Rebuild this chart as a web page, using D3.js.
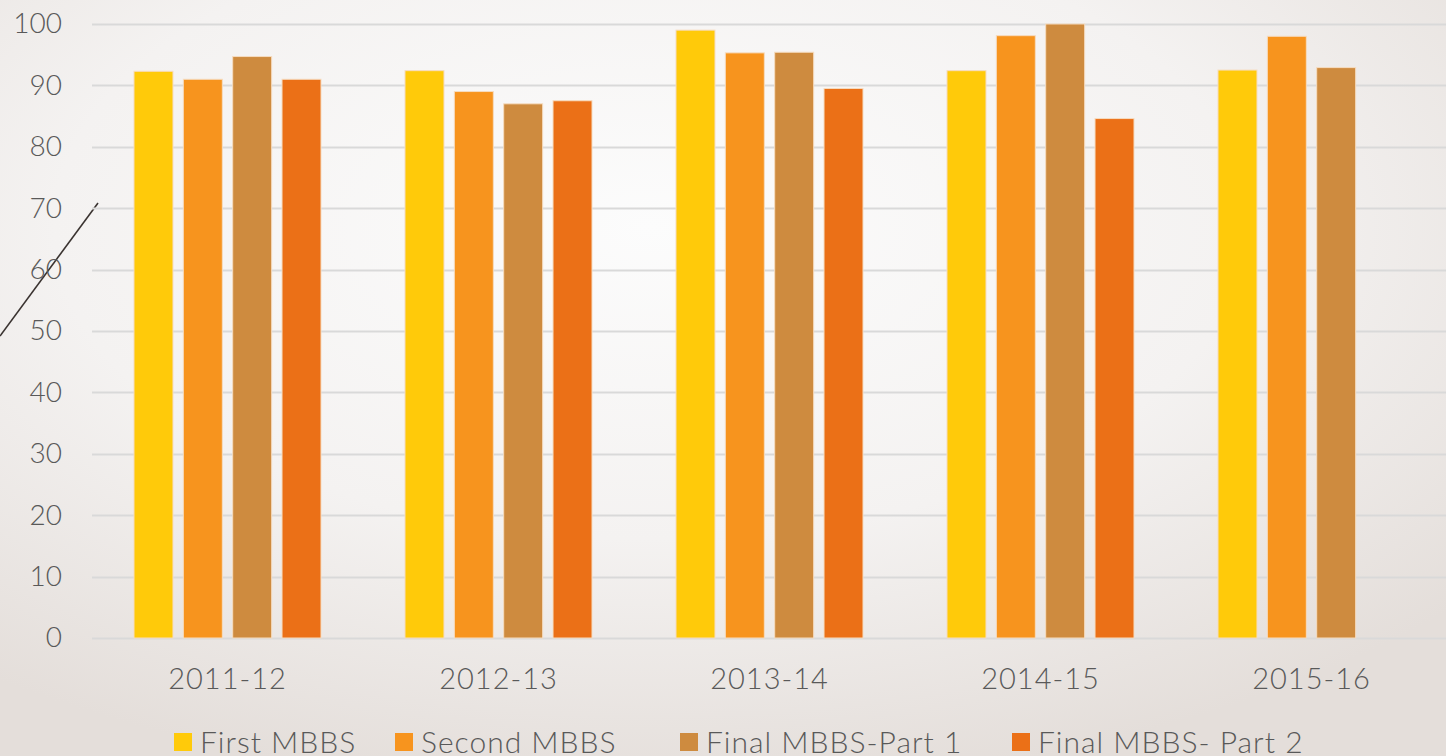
<!DOCTYPE html>
<html lang="en">
<head>
    <meta charset="utf-8">
    <title>MBBS results</title>
    <script src="https://cdn.jsdelivr.net/npm/d3@7/dist/d3.min.js"></script>
    <style>
        body { margin: 0; overflow: hidden; }
        text { font-family: "Lato", "DejaVu Sans", sans-serif; font-weight: 300; fill: #595959; }
    </style>
</head>
<body>
    <script>
        // Data
        var years = [ "2011-12", "2012-13", "2013-14", "2014-15", "2015-16" ];
        var seriesNames = [ "First MBBS", "Second MBBS", "Final MBBS-Part 1", "Final MBBS- Part 2" ];
        var firstMbbs  = [ 92.3, 92.4, 99.0, 92.4, 92.5 ];
        var secondMbbs = [ 91.0, 89.0, 95.3, 98.1, 98.0 ];
        var finalPart1 = [ 94.7, 87.0, 95.4, 100, 92.9 ];
        var finalPart2 = [ 91.0, 87.5, 89.5, 84.6, null ];
        var yTicks = [ 0, 10, 20, 30, 40, 50, 60, 70, 80, 90, 100 ];
        var colors = [ "#ffca0a", "#f7941e", "#ce8b3f", "#eb7017" ];

        var allSeries = [ firstMbbs, secondMbbs, finalPart1, finalPart2 ];

        var width = 1446;
        var height = 756;
        var margin = { left: 92, right: -1, top: 24, bottom: 118 };

        var svg = d3.select( "body" )
            .append( "svg" )
            .attr( "width", width )
            .attr( "height", height );

        // Background: soft light-gray radial gradient
        var defs = svg.append( "defs" );
        var grad = defs.append( "radialGradient" )
            .attr( "id", "bg" )
            .attr( "cx", "45%" ).attr( "cy", "30%" ).attr( "r", "75%" );
        grad.append( "stop" ).attr( "offset", "0%" ).attr( "stop-color", "#fcfcfc" );
        grad.append( "stop" ).attr( "offset", "55%" ).attr( "stop-color", "#f4f2f1" );
        grad.append( "stop" ).attr( "offset", "100%" ).attr( "stop-color", "#e4deda" );
        svg.append( "rect" )
            .attr( "width", width ).attr( "height", height )
            .attr( "fill", "url(#bg)" );

        // Decorative slanted line on the left
        svg.append( "path" )
            .attr( "d", "M98,203 L0,336" )
            .attr( "stroke", "#3a3330" )
            .attr( "stroke-width", 1.6 )
            .attr( "fill", "none" );

        var x0 = d3.scaleBand()
            .domain( years )
            .range( [ margin.left, width - margin.right ] );

        var x1 = d3.scaleBand()
            .domain( d3.range( seriesNames.length ) )
            .range( [ 42, x0.bandwidth() - 42 ] )
            .paddingInner( 0.21 );

        var y = d3.scaleLinear()
            .domain( [ 0, 100 ] )
            .range( [ height - margin.bottom, margin.top ] );

        // Gridlines
        svg.append( "g" )
            .selectAll( "line" )
            .data( yTicks )
            .enter()
            .append( "line" )
            .attr( "x1", margin.left )
            .attr( "x2", width )
            .attr( "y1", function( d ) { return Math.round( y( d ) ) + 0.5; } )
            .attr( "y2", function( d ) { return Math.round( y( d ) ) + 0.5; } )
            .attr( "stroke", "#d9d9d9" )
            .attr( "stroke-width", 2 );

        // Y axis labels
        var yAxis = d3.axisLeft( y ).tickValues( yTicks ).tickSize( 0 ).tickPadding( 0 );
        var yg = svg.append( "g" )
            .attr( "transform", "translate(62,0)" )
            .call( yAxis );
        yg.select( ".domain" ).remove();
        yg.selectAll( "text" )
            .style( "font-size", "28px" )
            .style( "font-family", "Lato, sans-serif" )
            .style( "font-weight", 300 )
            .attr( "fill", "#595959" );

        // Bars
        var groups = svg.append( "g" )
            .selectAll( "g" )
            .data( years )
            .enter()
            .append( "g" )
            .attr( "transform", function( d ) { return "translate(" + x0( d ) + ",0)"; } );

        groups.selectAll( "rect" )
            .data( function( d, i ) {
                return allSeries.map( function( s, k ) { return { k: k, v: s[ i ] }; } )
                    .filter( function( e ) { return e.v != null; } );
            } )
            .enter()
            .append( "rect" )
            .attr( "x", function( d ) { return x1( d.k ); } )
            .attr( "width", x1.bandwidth() )
            .attr( "y", function( d ) { return y( d.v ); } )
            .attr( "height", function( d ) { return y( 0 ) - y( d.v ); } )
            .attr( "fill", function( d ) { return colors[ d.k ]; } )
            .attr( "stroke", "#f6dcc0" )
            .attr( "stroke-width", 1 );

        // X axis labels
        var xAxis = d3.axisBottom( x0 ).tickSize( 0 ).tickPadding( 0 );
        var xg = svg.append( "g" )
            .attr( "transform", "translate(0," + ( y( 0 ) + 30 ) + ")" )
            .call( xAxis );
        xg.select( ".domain" ).remove();
        xg.selectAll( "text" )
            .style( "font-size", "29px" )
            .style( "font-family", "Lato, sans-serif" )
            .style( "font-weight", 300 )
            .style( "letter-spacing", "1px" )
            .attr( "fill", "#595959" );

        // Legend (item start positions follow the reference layout)
        var legendX = [ 174, 395, 680, 1012 ];
        var legend = svg.append( "g" );
        seriesNames.forEach( function( name, k ) {
            var item = legend.append( "g" ).attr( "transform", "translate(" + legendX[ k ] + ",0)" );
            item.append( "rect" )
                .attr( "x", 0 ).attr( "y", 733 )
                .attr( "width", 18 ).attr( "height", 18 )
                .attr( "fill", colors[ k ] );
            item.append( "text" )
                .attr( "x", 26 ).attr( "y", 753 )
                .style( "font-size", "30px" )
                .style( "letter-spacing", "1px" )
                .text( name );
        } );
    </script>
</body>
</html>
